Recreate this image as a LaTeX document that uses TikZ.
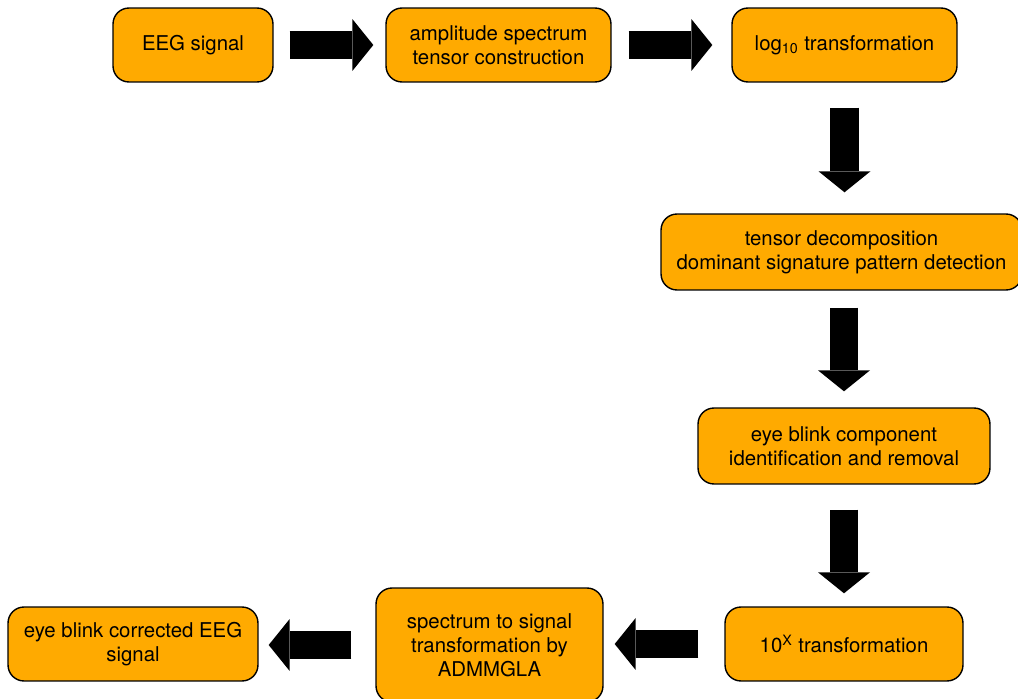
\documentclass[tikz,border=0pt]{standalone}
\usepackage{fontspec}
\setmainfont{TeX Gyre Heros}
\usepackage{xcolor}
\definecolor{florange}{HTML}{FFAA00}
\definecolor{flink}{HTML}{000000}
\usepackage{tikz}
\usetikzlibrary{arrows.meta}
\tikzset{
  flbox/.style  ={rectangle, rounded corners=0.32cm, draw=flink, fill=florange,
                  line width=0.8pt, minimum height=1.48cm, inner sep=0pt,
                  align=center, font=\fontsize{11.6}{13.7}\selectfont, text=flink},
  flarrow/.style={-{Triangle[length=0.42cm,width=1.04cm,line width=0pt]},
                  line width=0.57cm, draw=flink},
}

\begin{document}
\begin{tikzpicture}[x=0.02cm, y=-0.02cm]
  \useasboundingbox (0,0) rectangle (1018,699);
  \node[flbox, minimum width=3.2cm]  (eeg)   at (193,45)    {EEG signal};
  \node[flbox, minimum width=4.5cm]  (ampl)  at (498.5,45)  {amplitude spectrum\\tensor construction};
  \node[flbox, minimum width=4.5cm]  (logt)  at (844.5,45)  {log\textsubscript{10} transformation};
  \node[flbox, minimum width=7.22cm, minimum height=1.52cm] (tdec)  at (841.5,252)
    {tensor decomposition\\dominant signature pattern detection};
  \node[flbox, minimum width=5.84cm, minimum height=1.52cm] (blink) at (844,446)
    {eye blink component\\identification and removal};
  \node[flbox, minimum width=4.76cm] (tenx)  at (844,644)   {10\textsuperscript{X} transformation};
  \node[flbox, minimum width=4.54cm, minimum height=2.28cm] (spec)  at (489.5,645)
    {spectrum to signal\\transformation by\\ADMMGLA};
  \node[flbox, minimum width=5cm]    (corr)  at (133,644)   {eye blink corrected EEG\\signal};
  \draw[flarrow, shorten <=0.32cm, shorten >=0.24cm] (eeg.east) -- (ampl.west);
  \draw[flarrow, shorten <=0.34cm, shorten >=0.38cm] (ampl.east) -- (logt.west);
  \draw[flarrow, shorten <=0.5cm, shorten >=0.42cm] (logt.south) -- (logt.south |- tdec.north);
  \draw[flarrow, shorten <=0.34cm, shorten >=0.32cm] (blink.north |- tdec.south) -- (blink.north);
  \draw[flarrow, shorten <=0.5cm, shorten >=0.26cm] (blink.south) -- (tenx.north);
  \draw[flarrow, shorten <=0.52cm, shorten >=0.22cm] (tenx.west) -- (tenx.west -| spec.east);
  \draw[flarrow, shorten <=0.48cm, shorten >=0.2cm] (spec.west) -- (spec.west -| corr.east);
\end{tikzpicture}
\end{document}
